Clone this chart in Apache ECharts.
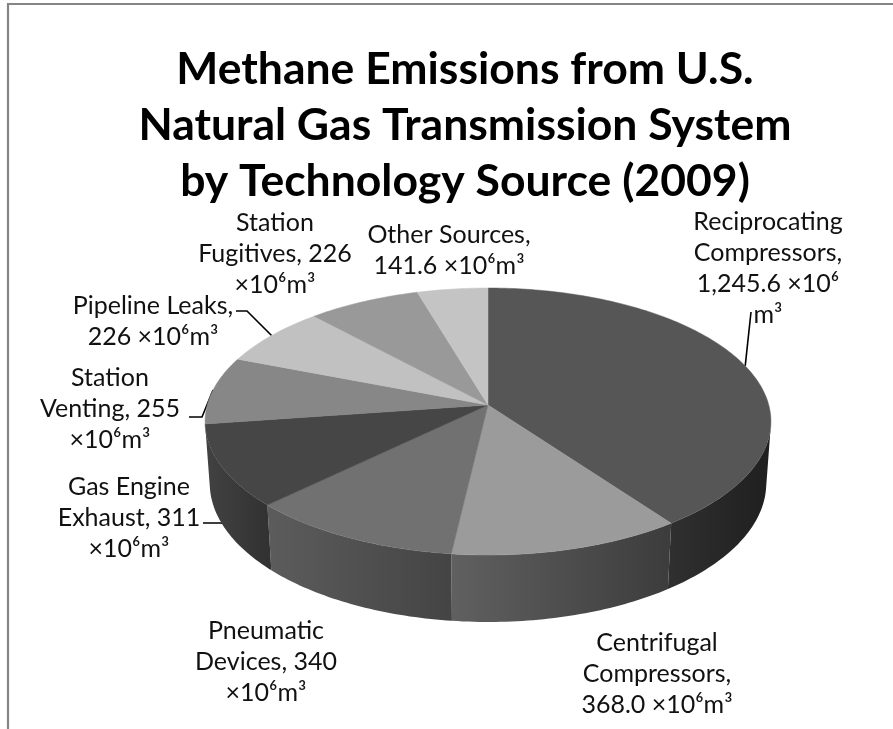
<!DOCTYPE html>
<html>
<head>
<meta charset="utf-8">
<script src="https://cdn.jsdelivr.net/npm/echarts@6/dist/echarts.min.js"></script>
<style>
  html, body { margin: 0; padding: 0; background: #fff; }
  #chart { width: 893px; height: 729px; }
</style>
</head>
<body>
<div id="chart"></div>
<script>
// ---- data ----
const titleLines = [
  'Methane Emissions from U.S.',
  'Natural Gas Transmission System',
  'by Technology Source (2009)'
];
const categories = [
  'Reciprocating Compressors',
  'Centrifugal Compressors',
  'Pneumatic Devices',
  'Gas Engine Exhaust',
  'Station Venting',
  'Pipeline Leaks',
  'Station Fugitives',
  'Other Sources'
];
const emissions = [1245.6, 368.0, 340, 311, 255, 226, 226, 141.6]; // 10^6 m3
const valueDecimals = [1, 1, 0, 0, 0, 0, 0, 1];

// ---- styles ----
const FONT = 'Lato, "Open Sans", "Noto Sans", sans-serif';
const topColors = ['#565656', '#9b9b9b', '#717171', '#464646', '#878787', '#c1c1c1', '#999999', '#c4c4c4'];
const wallColors = [
  ['#303030', '#1f1f1f'],
  ['#606060', '#3c3c3c'],
  ['#5c5c5c', '#444444'],
  ['#424242', '#313131'],
  ['#5a5a5a', '#444444'],
  ['#7a7a7a', '#5a5a5a'],
  ['#6a6a6a', '#4a4a4a'],
  ['#7a7a7a', '#5a5a5a']
];

// simple perspective camera for a unit-radius disc (top face at h = 0)
const cam = { cx: 488, cy: 405, focal: 2007, dist: 7.149, tilt: 27.92 * Math.PI / 180, thickness: 0.251 };
const sinT = Math.sin(cam.tilt), cosT = Math.cos(cam.tilt);

function project(theta, h) {
  const s = Math.sin(theta), c = Math.cos(theta);
  const yc = -h * cosT + c * sinT;
  const dep = cam.dist + h * sinT + c * cosT;
  return [cam.cx + cam.focal * s / dep, cam.cy - cam.focal * yc / dep];
}

// the outer wall faces the viewer where cos(theta) < -1 / (dist * cos(tilt))
const wallLimit = Math.acos(-1 / (cam.dist * cosT));
const wallMin = wallLimit, wallMax = 2 * Math.PI - wallLimit;

// slice angles (clockwise from the far side) derived from the values
const total = emissions.reduce((a, b) => a + b, 0);
const startAngles = [], endAngles = [];
emissions.reduce((acc, v, i) => {
  startAngles[i] = acc / total * 2 * Math.PI;
  endAngles[i] = (acc + v) / total * 2 * Math.PI;
  return acc + v;
}, 0);

function arc(a0, a1, h) {
  const n = Math.max(2, Math.ceil(Math.abs(a1 - a0) / (Math.PI / 180)));
  const pts = [];
  for (let k = 0; k <= n; k++) pts.push(project(a0 + (a1 - a0) * k / n, h));
  return pts;
}

function renderSlice(params, api) {
  const i = params.dataIndex;
  const a0 = startAngles[i], a1 = endAngles[i];
  const children = [];
  const lo = Math.max(a0, wallMin), hi = Math.min(a1, wallMax);
  if (lo < hi) {
    const pts = arc(lo, hi, 0).concat(arc(hi, lo, cam.thickness));
    children.push({
      type: 'polygon',
      shape: { points: pts },
      style: {
        fill: new echarts.graphic.LinearGradient(0, 0, 1, 0, [
          { offset: 0, color: wallColors[i][0] },
          { offset: 1, color: wallColors[i][1] }
        ]),
        stroke: null
      }
    });
  }
  children.push({
    type: 'polygon',
    shape: { points: [[cam.cx, cam.cy]].concat(arc(a0, a1, 0)) },
    style: { fill: topColors[i], stroke: topColors[i], lineWidth: 0.5 }
  });
  return { type: 'group', children: children };
}

// ---- data labels ----
const labelLayout = [
  { x: 768, y: 206, lines: ['Reciprocating', 'Compressors,', '{v} ×10⁶', 'm³'], leader: [[751, 312]], wall: 0 },
  { x: 657, y: 627, lines: ['Centrifugal', 'Compressors,', '{v} ×10⁶m³'] },
  { x: 266, y: 615, lines: ['Pneumatic', 'Devices, {v}', '×10⁶m³'] },
  { x: 129, y: 471, lines: ['Gas Engine', 'Exhaust, {v}', '×10⁶m³'], leader: [[203, 523], [221, 523]], wall: 0.9 },
  { x: 110, y: 362, lines: ['Station', 'Venting, {v}', '×10⁶m³'], leader: [[189, 417], [202, 417]], wall: 0 },
  { x: 153, y: 290, lines: ['Pipeline Leaks,', '{v} ×10⁶m³'], leader: [[236, 311], [247, 311]], wall: 0 },
  { x: 275, y: 207, lines: ['Station', 'Fugitives, {v}', '×10⁶m³'] },
  { x: 449, y: 219, lines: ['Other Sources,', '{v} ×10⁶m³'] }
];

function fmt(v, d) {
  return v.toLocaleString('en-US', { minimumFractionDigits: d, maximumFractionDigits: d });
}

const graphics = [];
// frame
graphics.push({
  type: 'polyline', silent: true,
  shape: { points: [[8, 729], [8, 4], [893, 4]] },
  style: { stroke: '#858585', lineWidth: 2.2, fill: null }
});
labelLayout.forEach((lab, i) => {
  const text = lab.lines.map(l => l.replace('{v}', fmt(emissions[i], valueDecimals[i]))).join('\n');
  graphics.push({
    type: 'text', silent: true, x: lab.x, y: lab.y,
    style: {
      text: text, fill: '#111', font: '25px ' + FONT, fontSize: 25, fontFamily: FONT,
      lineHeight: 31, textAlign: 'center', align: 'center', textVerticalAlign: 'top', verticalAlign: 'top'
    }
  });
  if (lab.leader) {
    const mid = (startAngles[i] + endAngles[i]) / 2;
    const end = project(mid, lab.wall * cam.thickness);
    graphics.push({
      type: 'polyline', silent: true,
      shape: { points: lab.leader.concat([end]) },
      style: { stroke: '#000', lineWidth: 1.6, fill: null }
    });
  }
});

const chart = echarts.init(document.getElementById('chart'), null, { renderer: 'canvas' });
chart.setOption({
  backgroundColor: '#fff',
  animation: false,
  title: {
    text: titleLines.join('\n'),
    left: 460, top: 37, textAlign: 'center',
    textStyle: { fontFamily: FONT, fontWeight: 'bold', fontSize: 44.5, lineHeight: 56, color: '#000' }
  },
  series: [{
    type: 'custom',
    coordinateSystem: 'none',
    silent: true,
    data: emissions.map((v, i) => ({ name: categories[i], value: v })),
    renderItem: renderSlice
  }],
  graphic: graphics
});
</script>
</body>
</html>
